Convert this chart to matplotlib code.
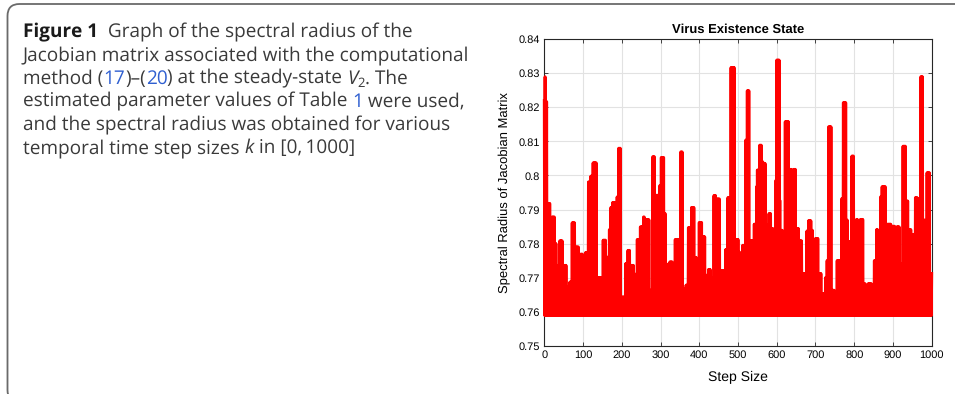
import numpy as np
import matplotlib.pyplot as plt
from matplotlib.patches import FancyBboxPatch
from matplotlib.transforms import IdentityTransform

plt.rcParams['text.hinting'] = 'no_hinting'
plt.rcParams['text.hinting_factor'] = 1

## values
# lowest value the radius keeps dropping back to
floor_val = 0.7589
# the step where each stretch of the upper edge starts, and its height
seg_start = [0, 1, 4, 8, 16, 20, 27, 32, 39, 47,
             58, 66, 71, 80, 90, 94, 100, 106, 114, 119,
             126, 135, 140, 152, 159, 167, 171, 176, 183, 188,
             191, 198, 209, 215, 222, 231, 239, 248, 255, 260,
             271, 279, 286, 290, 297, 302, 309, 314, 319, 324,
             331, 338, 348, 351, 358, 365, 372, 379, 388, 394,
             400, 408, 415, 424, 430, 437, 444, 453, 467, 473,
             481, 491, 501, 506, 512, 519, 523, 530, 542, 547,
             550, 555, 561, 566, 571, 579, 586, 591, 597, 600,
             607, 610, 615, 622, 631, 634, 639, 643, 650, 657,
             665, 677, 682, 689, 694, 700, 708, 715, 725, 730,
             734, 741, 749, 755, 767, 772, 779, 783, 793, 800,
             805, 810, 815, 824, 829, 836, 845, 852, 857, 862,
             867, 872, 881, 886, 895, 905, 910, 917, 926, 933,
             940, 947, 957, 964, 971, 978, 983, 988, 995]
seg_top = [0.8220, 0.8290, 0.8217, 0.7918, 0.7822, 0.7878, 0.7800, 0.7736, 0.7808, 0.7736,
           0.7673, 0.7687, 0.7861, 0.7790, 0.7722, 0.7769, 0.7653, 0.7773, 0.7981, 0.7998,
           0.8037, 0.7638, 0.7700, 0.7810, 0.7760, 0.7841, 0.7906, 0.7920, 0.7785, 0.7937,
           0.8080, 0.7643, 0.7741, 0.7780, 0.7736, 0.7710, 0.7812, 0.7849, 0.7878, 0.7870,
           0.7663, 0.8055, 0.7845, 0.7942, 0.7970, 0.8053, 0.7888, 0.7673, 0.7740, 0.7746,
           0.7700, 0.7812, 0.7740, 0.8069, 0.7668, 0.7678, 0.7847, 0.7906, 0.7759, 0.7700,
           0.7862, 0.7820, 0.7707, 0.7724, 0.7700, 0.7941, 0.7931, 0.7720, 0.7782, 0.7935,
           0.8317, 0.7812, 0.7775, 0.7760, 0.7795, 0.8104, 0.8249, 0.7808, 0.7857, 0.7967,
           0.8016, 0.8089, 0.8040, 0.8035, 0.7854, 0.7888, 0.7844, 0.7673, 0.7986, 0.8339,
           0.7927, 0.7839, 0.7726, 0.8158, 0.7775, 0.8018, 0.7775, 0.8018, 0.7844, 0.7808,
           0.7712, 0.7837, 0.7867, 0.7839, 0.7682, 0.7815, 0.7712, 0.7653, 0.7700, 0.7750,
           0.8143, 0.7663, 0.7643, 0.7750, 0.7932, 0.8214, 0.7869, 0.7805, 0.8057, 0.7750,
           0.7871, 0.7750, 0.7871, 0.7682, 0.7668, 0.7682, 0.7668, 0.7750, 0.7841, 0.7815,
           0.7937, 0.7967, 0.7849, 0.7857, 0.7851, 0.7741, 0.7849, 0.7741, 0.8086, 0.7925,
           0.7841, 0.7827, 0.7935, 0.7932, 0.8290, 0.7869, 0.7849, 0.8008, 0.7712]
assert len(seg_start) == len(seg_top)

x_ticks = list(range(0, 1001, 100))
y_ticks = [0.75, 0.76, 0.77, 0.78, 0.79, 0.80, 0.81, 0.82, 0.83, 0.84]
y_tick_labels = ['0.75', '0.76', '0.77', '0.78', '0.79', '0.8', '0.81', '0.82', '0.83', '0.84']

# caption, one list of (text, style) per line
caption = [
    [('Figure 1', 'b'), ('  Graph of the spectral radius of the', 'n')],
    [('Jacobian matrix associated with the computational', 'n')],
    [('method (', 'n'), ('17', 'l'), (')\u2013(', 'n'), ('20', 'l'),
     (') at the steady-state ', 'n'), ('V', 'i'), ('2', 's'), ('. The', 'n')],
    [('estimated parameter values of Table ', 'n'), ('1', 'l'), (' were used,', 'n')],
    [('and the spectral radius was obtained for various', 'n')],
    [('temporal time step sizes ', 'n'), ('k', 'i'), (' in [0,\u20091000]', 'n')],
]

## series: every step swings between the upper edge and the floor
steps = np.arange(0, 1001)
idx = np.searchsorted(seg_start, steps, side='right') - 1
upper = np.array(seg_top)[idx]
radius = np.where(steps % 2 == 0, upper, floor_val)

W, H = 955, 394
fig = plt.figure(figsize=(W / 100, H / 100), dpi=100)

# outer frame with rounded corner
frame = FancyBboxPatch((7.5, -8), 1100, 398, boxstyle='round,pad=0,rounding_size=12',
                       transform=IdentityTransform(), fill=False, ec='#6a6a6a', lw=1.3)
fig.patches.append(frame)

## chart
ax = fig.add_axes([544.3 / W, 1 - 345.7 / H, 387.4 / W, 306.4 / H])
ax.plot(steps, radius, color='#ff0000', lw=2.1, solid_joinstyle='round', clip_on=False, zorder=3)
ax.set_xlim(0, 1000)
ax.set_ylim(0.75, 0.84)
ax.set_xticks(x_ticks)
ax.set_xticklabels([str(t) for t in x_ticks], fontfamily='Liberation Sans', fontsize=8)
ax.set_yticks(y_ticks)
ax.set_yticklabels(y_tick_labels, fontfamily='Liberation Sans', fontsize=8)
ax.tick_params(direction='in', top=True, right=True, length=3, width=0.6,
               color='#262626', labelcolor='#000000', pad=3)
ax.grid(True, color='#e2e2e2', lw=0.8)
ax.set_axisbelow(True)
for sp in ax.spines.values():
    sp.set_color('#262626')
    sp.set_linewidth(0.8)
ax.set_title('Virus Existence State', fontfamily='Liberation Sans', fontweight='bold',
             fontsize=9.5, pad=4.5)
ax.set_xlabel('Step Size', fontfamily='Liberation Sans', fontsize=9.8)
ax.set_ylabel('Spectral Radius of Jacobian Matrix', fontfamily='Liberation Sans', fontsize=9.5)
ax.xaxis.set_label_coords(0.5, -0.084)
ax.yaxis.set_label_coords(-0.086, 0.5)

## caption text, drawn piece by piece
fs = 13.4
fam = ['Open Sans', 'DejaVu Sans']
styles = {
    'b': dict(color='#1a1a1a', fontweight='bold', fontsize=fs),
    'n': dict(color='#3a3a3a', fontsize=fs),
    'l': dict(color='#2f5fd0', fontsize=fs),
    'i': dict(color='#3a3a3a', fontstyle='italic', fontsize=fs),
    's': dict(color='#3a3a3a', fontsize=fs * 0.7),
}
renderer = fig.canvas.get_renderer()


def text_width(s, props):
    # bars on both sides so that spaces are counted
    t1 = fig.text(0, 0, '|' + s + '|', family=fam, **props)
    t2 = fig.text(0, 0, '||', family=fam, **props)
    w = t1.get_window_extent(renderer).width - t2.get_window_extent(renderer).width
    t1.remove()
    t2.remove()
    return w


x0 = 23
baselines = [37, 60.3, 83.6, 106.9, 130.2, 153.5]
for line, yb in zip(caption, baselines):
    x = x0
    for s, st in line:
        props = styles[st]
        y = yb + 3.8 if st == 's' else yb
        fig.text(x / W, 1 - y / H, s, family=fam, va='baseline', ha='left', **props)
        x += text_width(s, props)

fig.savefig('out.png', dpi=100)
